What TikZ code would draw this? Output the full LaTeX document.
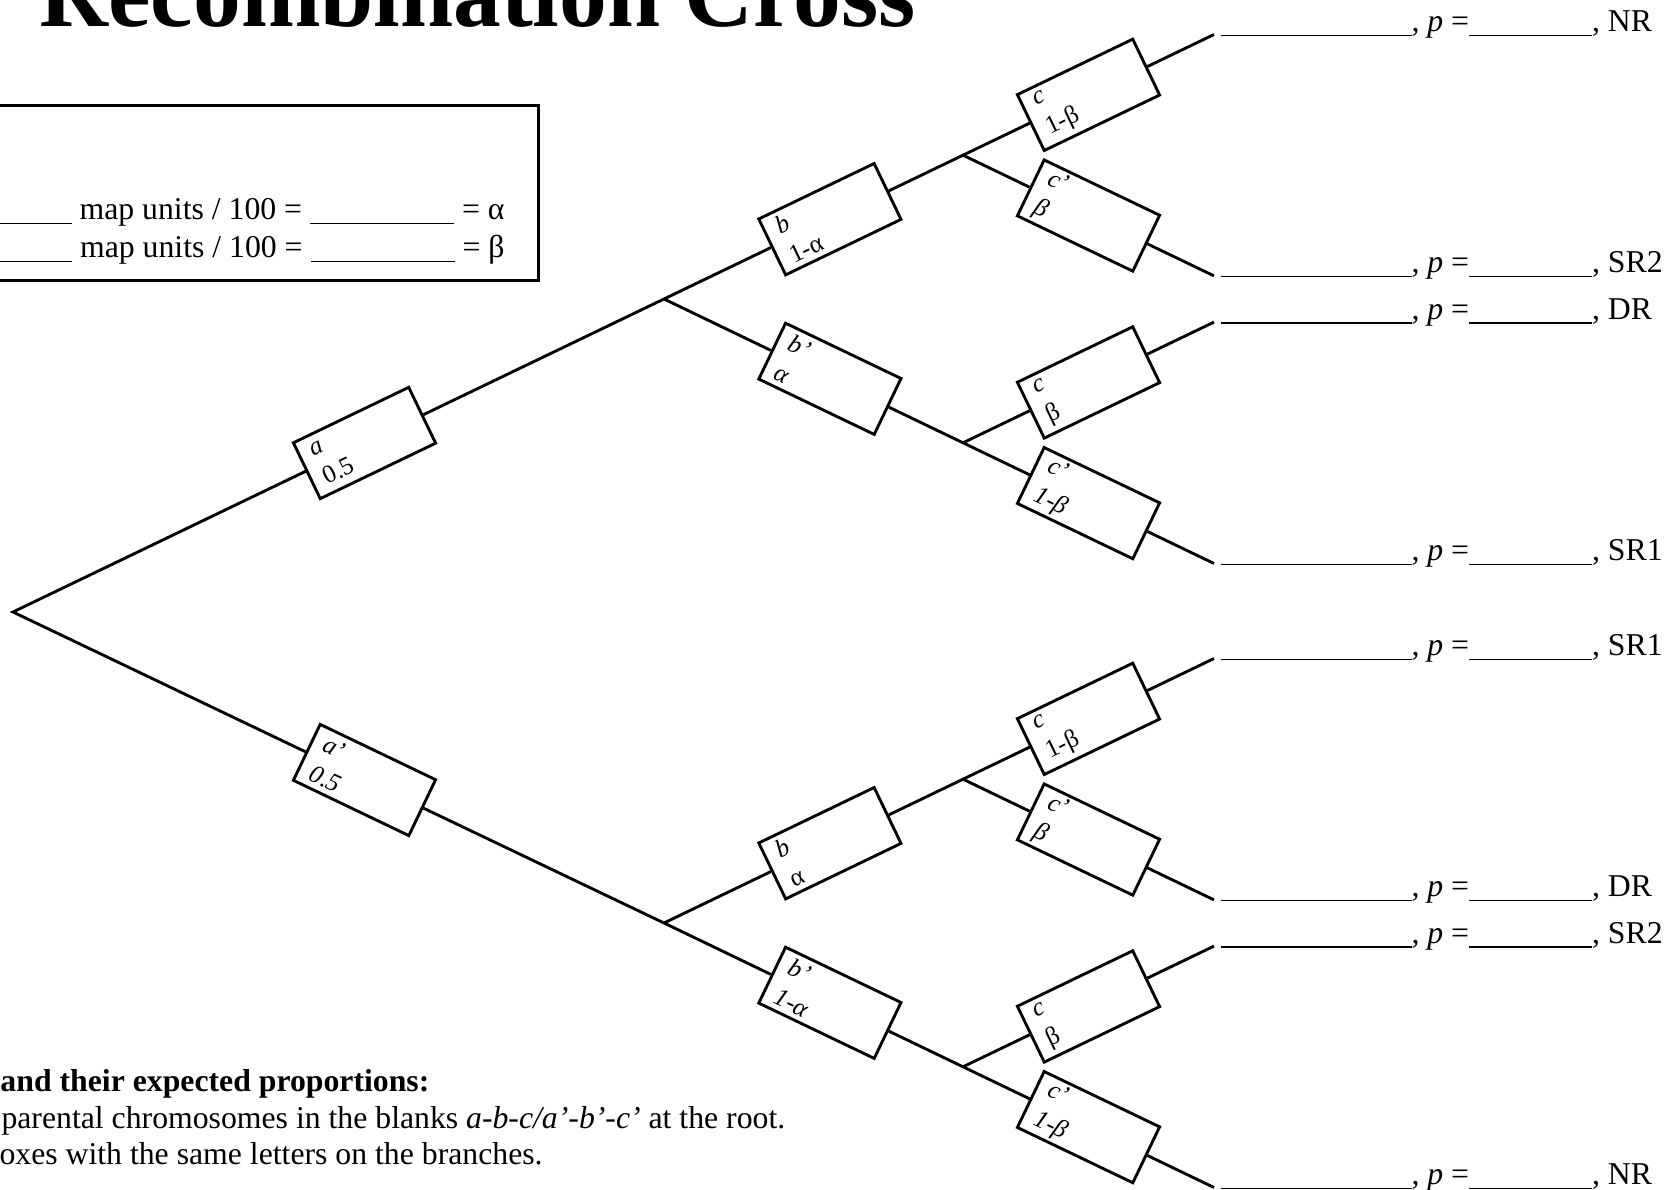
\documentclass[tikz,border=0pt]{standalone}
\usepackage{fontspec}
\setmainfont{Liberation Serif}
\usepackage{tikz}

\newcommand{\gapline}[1]{\rule[-1.8pt]{#1}{0.55pt}}
\newcommand{\outcome}[1]{\gapline{76.4pt}, \textit{p} =\gapline{49.2pt}, #1}

\begin{document}
\begin{tikzpicture}[x=0.4pt, y=-0.4pt,
  branch/.style={line width=1.15pt},
  gbox/.style={draw, line width=1.15pt, fill=white, minimum width=51.2pt,
    minimum height=24.8pt, text width=41.2pt, inner xsep=5pt, inner ysep=0pt,
    align=left, font=\fontsize{10.2}{12.8}\selectfont},
  boxup/.style={gbox, rotate=25.68},
  boxdown/.style={gbox, rotate=-25.6},
  textline/.style={anchor=base west, inner sep=0pt, font=\fontsize{12.7}{15}\selectfont}]

\useasboundingbox (0,0) rectangle (1674,1190);
\clip (0,0) rectangle (1674,1190);


\node[anchor=base west, inner sep=0pt] (title) at (39,27) {\fontsize{38.2}{40}\selectfont\bfseries Recombination Cross};


\draw[line width=1.2pt] (-10,106) rectangle (538,281);
\node[textline, anchor=base east] (rowalpha) at (505,220) {\gapline{32pt} map units / 100 = \gapline{57.6pt} = α};
\node[textline, anchor=base east] (rowbeta) at (505,258) {\gapline{32pt} map units / 100 = \gapline{57.6pt} = β};


\coordinate (root) at (13,612);
\coordinate (ja) at (664,299);
\coordinate (jb) at (664,923);
\coordinate (ka) at (963,155.2);
\coordinate (kb) at (963,442.8);
\coordinate (kc) at (963,779.2);
\coordinate (kd) at (963,1066.8);

\coordinate (e1) at (1214,34.5);
\coordinate (e2) at (1214,275.9);
\coordinate (e3) at (1214,322.1);
\coordinate (e4) at (1214,563.5);
\coordinate (e5) at (1214,658.5);
\coordinate (e6) at (1214,899.9);
\coordinate (e7) at (1214,946.1);
\coordinate (e8) at (1214,1187.5);


\node[boxup] (a) at (364.5,443) {\textit{a}\\0.5};
\node[boxdown] (ap) at (364.5,780) {\textit{a’}\\\textit{0.5}};

\node[boxup] (b1) at (829.9,219.2) {\textit{b}\\1-α};
\node[boxdown] (bp1) at (829.9,378.8) {\textit{b’}\\\textit{α}};
\node[boxup] (b2) at (829.9,843.2) {\textit{b}\\α};
\node[boxdown] (bp2) at (829.9,1002.8) {\textit{b’}\\\textit{1-α}};

\node[boxup] (c1) at (1088.5,94.85) {\textit{c}\\1-β};
\node[boxdown] (cp1) at (1088.5,215.55) {\textit{c’}\\\textit{β}};
\node[boxup] (c2) at (1088.5,382.45) {\textit{c}\\β};
\node[boxdown] (cp2) at (1088.5,503.15) {\textit{c’}\\\textit{1-β}};
\node[boxup] (c3) at (1088.5,718.85) {\textit{c}\\1-β};
\node[boxdown] (cp3) at (1088.5,839.55) {\textit{c’}\\\textit{β}};
\node[boxup] (c4) at (1088.5,1006.45) {\textit{c}\\β};
\node[boxdown] (cp4) at (1088.5,1127.15) {\textit{c’}\\\textit{1-β}};


\draw[branch] (ja) -- (a) -- (root) -- (ap) -- (jb);

\draw[branch] (ja) -- (b1) -- (ka) -- (c1) -- (e1);
\draw[branch] (ka) -- (cp1) -- (e2);
\draw[branch] (ja) -- (bp1) -- (kb) -- (cp2) -- (e4);
\draw[branch] (kb) -- (c2) -- (e3);

\draw[branch] (jb) -- (b2) -- (kc) -- (c3) -- (e5);
\draw[branch] (kc) -- (cp3) -- (e6);
\draw[branch] (jb) -- (bp2) -- (kd) -- (cp4) -- (e8);
\draw[branch] (kd) -- (c4) -- (e7);


\node[textline] (l1) at ([shift={(6,-3)}]e1) {\outcome{NR}};
\node[textline] (l2) at ([shift={(6,-3)}]e2) {\outcome{SR2}};
\node[textline] (l3) at ([shift={(6,-3)}]e3) {\outcome{DR}};
\node[textline] (l4) at ([shift={(6,-3)}]e4) {\outcome{SR1}};
\node[textline] (l5) at ([shift={(6,-3)}]e5) {\outcome{SR1}};
\node[textline] (l6) at ([shift={(6,-3)}]e6) {\outcome{DR}};
\node[textline] (l7) at ([shift={(6,-3)}]e7) {\outcome{SR2}};
\node[textline] (l8) at ([shift={(6,-3)}]e8) {\outcome{NR}};


\node[textline] (notehead) at (0,1091) {\bfseries and their expected proportions:};
\node[textline] (noteroot) at (1,1128) {parental chromosomes in the blanks \textit{a-b-c/a’-b’-c’} at the root.};
\node[textline] (notebranch) at (-1,1164) {oxes with the same letters on the branches.};

\end{tikzpicture}
\end{document}
